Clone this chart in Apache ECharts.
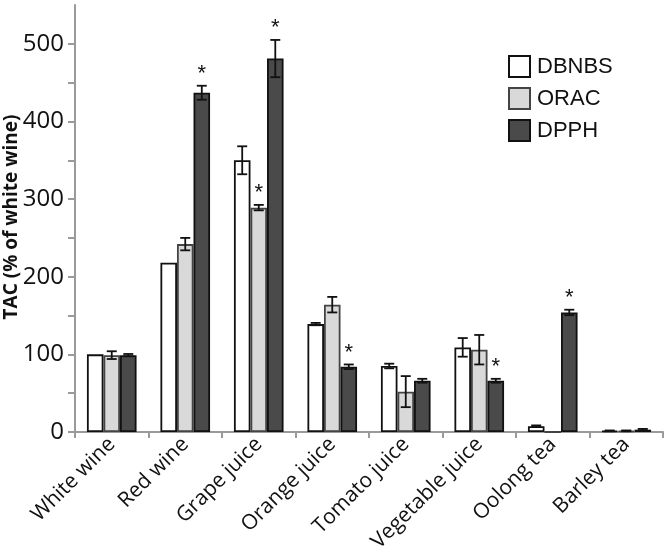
<!DOCTYPE html>
<html>
<head>
<meta charset="utf-8">
<script src="https://cdn.jsdelivr.net/npm/echarts@6/dist/echarts.min.js"></script>
<style>
  html, body { margin: 0; padding: 0; background: #fff; }
  #chart { width: 666px; height: 547px; }
</style>
</head>
<body>
<div id="chart"></div>
<script>
"use strict";

// 数据: 读自原图, TAC 以白葡萄酒为 100%
const categories = ["White wine", "Red wine", "Grape juice", "Orange juice",
                    "Tomato juice", "Vegetable juice", "Oolong tea", "Barley tea"];
const dbnbs    = [100, 218, 350, 139, 85, 109, 7.5, 1.5];
const dbnbsErr = [0,   0,   18,  1.5, 3,  12,  1,   0.5];
const orac     = [99,  242, 289, 164, 52, 106, 0,   1.5];
const oracErr  = [5,   8,   3.5, 10,  20, 19,  0,   0.5];
const dpph     = [99,  437, 481, 84,  66, 66,  154, 3];
const dpphErr  = [1.5, 9,   24,  3,   2.5, 2.5, 3.5, 1];
// 显著性标记 (*)
const dbnbsSig = [0, 0, 0, 0, 0, 0, 0, 0];
const oracSig  = [0, 0, 1, 0, 0, 0, 0, 0];
const dpphSig  = [0, 1, 1, 1, 0, 1, 1, 0];
const yTicks  = [0, 50, 100, 150, 200, 250, 300, 350, 400, 450, 500];
const yLabels = [0, 100, 200, 300, 400, 500];
const yTitle = "TAC (% of white wine)";

const BAR_FRAC = 0.225;   // 每根柱子占类目宽度的比例
const AXIS_GRAY = "#9a9a9a";
const FONT = "Open Sans, sans-serif";

const SERIES = [
  { name: "DBNBS", data: dbnbs, err: dbnbsErr, sig: dbnbsSig, fill: "#ffffff", border: "#111111" },
  { name: "ORAC",  data: orac,  err: oracErr,  sig: oracSig,  fill: "#d9d9d9", border: "#444444" },
  { name: "DPPH",  data: dpph,  err: dpphErr,  sig: dpphSig,  fill: "#4a4a4a", border: "#111111" }
];

function errorSeries(s, idx) {
  return {
    type: "custom",
    name: s.name + " err",
    z: 5,
    silent: true,
    data: s.data.map((v, i) => [i, v, s.err[i], s.sig[i]]),
    renderItem: (params, api) => {
      const i = api.value(0), v = api.value(1), e = api.value(2), sig = api.value(3);
      const bandW = api.size([1, 0])[0];
      const off = (idx - 1) * bandW * BAR_FRAC;
      const top = api.coord([i, v + e]);
      const bot = api.coord([i, v - e]);
      const x = top[0] + off;
      const half = 5;
      const children = [];
      if (e > 0 && v > 0) {
        const ls = { stroke: "#111", lineWidth: 1.8 };
        children.push(
          { type: "line", shape: { x1: x, y1: top[1], x2: x, y2: bot[1] }, style: ls },
          { type: "line", shape: { x1: x - half, y1: top[1], x2: x + half, y2: top[1] }, style: ls },
          { type: "line", shape: { x1: x - half, y1: bot[1], x2: x + half, y2: bot[1] }, style: ls }
        );
      }
      if (sig) {
        children.push({
          type: "text",
          style: { text: "*", x: x, y: top[1] - 1, align: "center", verticalAlign: "bottom",
                   fontSize: 22, fontFamily: "Liberation Sans, Arial", fill: "#111" }
        });
      }
      return { type: "group", children: children };
    }
  };
}

const chart = echarts.init(document.getElementById("chart"), null, { renderer: "canvas" });
chart.setOption({
  animation: false,
  textStyle: { fontFamily: FONT },
  grid: { left: 75, right: 3, top: 5, bottom: 115, containLabel: false, outerBoundsMode: "none" },
  // 纵轴标题 (v6 的轴名会自动避让刻度标签, 这里直接放置)
  graphic: [{
    type: "text",
    x: 12, y: 217,
    rotation: Math.PI / 2,
    style: { text: yTitle, align: "center", verticalAlign: "middle",
             fontSize: 19, fontWeight: "bold", fontFamily: FONT, fill: "#111" }
  }],
  legend: {
    orient: "vertical",
    left: 508, top: 55,
    padding: 0,
    itemWidth: 21, itemHeight: 21, itemGap: 9,
    icon: "rect",
    data: SERIES.map(s => s.name),
    textStyle: { fontFamily: "Liberation Sans, Arial", fontSize: 22, lineHeight: 21,
                 color: "#111", padding: [0, 0, 0, 2] }
  },
  xAxis: {
    type: "category",
    data: categories,
    axisLine: { lineStyle: { color: AXIS_GRAY, width: 2 } },
    axisTick: { show: true, length: 6, lineStyle: { color: AXIS_GRAY, width: 2 } },
    axisLabel: { rotate: 45, interval: 0, fontSize: 21, color: "#111", margin: 9, fontFamily: FONT }
  },
  yAxis: {
    type: "value",
    min: 0, max: 550,
    axisLine: { show: true, lineStyle: { color: AXIS_GRAY, width: 2 } },
    axisTick: { show: true, length: 7, customValues: yTicks, lineStyle: { color: AXIS_GRAY, width: 2 } },
    axisLabel: { customValues: yLabels, fontSize: 24, color: "#111", margin: 11, fontFamily: FONT },
    splitLine: { show: false }
  },
  series: SERIES.map(s => ({
    type: "bar",
    name: s.name,
    data: s.data,
    barWidth: (BAR_FRAC * 100) + "%",
    barGap: "0%",
    itemStyle: { color: s.fill, borderColor: s.border, borderWidth: 1.8 }
  })).concat(SERIES.map(errorSeries))
});
</script>
</body>
</html>
